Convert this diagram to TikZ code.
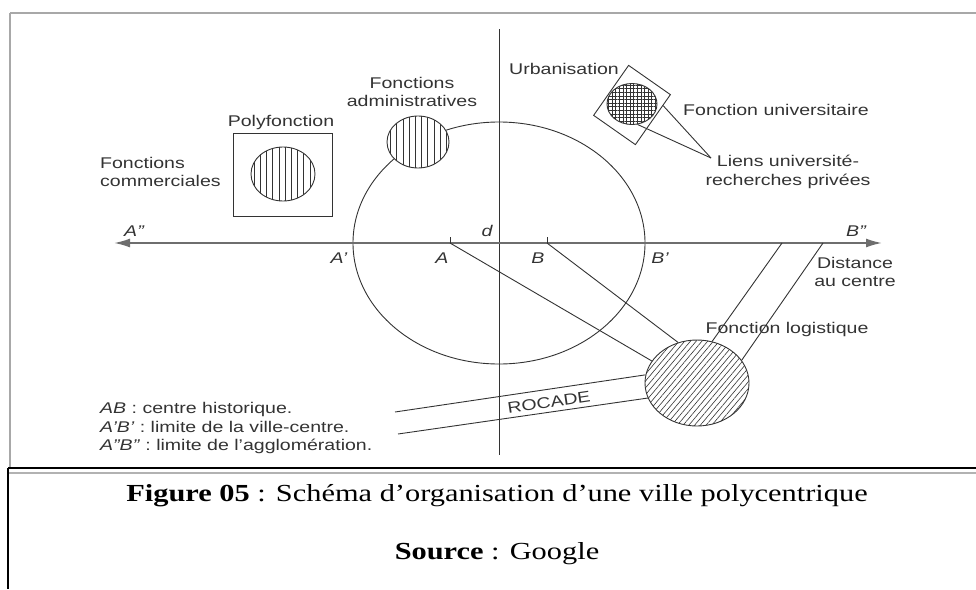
\documentclass[tikz,border=0pt]{standalone}
\usepackage{fontspec}
\setmainfont{Liberation Sans}[FakeStretch=1.26]
\newfontfamily\capfont{Liberation Serif}[FakeStretch=1.24]
\usetikzlibrary{shapes.geometric, patterns.meta, arrows.meta, calc}
\definecolor{ink}{HTML}{333333}
\definecolor{axisgray}{HTML}{6E6E6E}
\definecolor{framegray}{HTML}{A8A8A8}
\tikzset{
  lbl/.style={text=ink, font=\fontsize{15.5}{18.5}\selectfont, inner sep=0pt, align=center},
  ptlbl/.style={lbl, font=\fontsize{15.5}{18.5}\selectfont\itshape},
  zone/.style={ellipse, draw=ink, line width=0.9pt, fill=white, inner sep=0pt},
  vhatch/.style={postaction={pattern={Lines[angle=90, distance=6.2pt, line width=0.7pt]}, pattern color=ink}},
  gridhatch/.style={postaction={pattern={Hatch[distance=3.6pt, line width=0.5pt]}, pattern color=ink}},
  diaghatch/.style={postaction={pattern={Lines[angle=50, distance=4.4pt, line width=0.6pt]}, pattern color=ink}},
  link/.style={draw=ink, line width=0.9pt},
  caption/.style={inner sep=0pt, font=\capfont\fontsize{24.5}{28}\selectfont},
}
\begin{document}
\begin{tikzpicture}[x=1pt, y=-1pt]
\useasboundingbox (0,0) rectangle (976,589);
% frame
\draw[framegray, line width=2.5pt] (10,13) -- (976,13);
\draw[framegray, line width=2pt] (10,13) -- (10,468);
\draw[black, line width=2pt] (8,468) -- (976,468);
\draw[gray!60, line width=2pt] (8,473) -- (976,473);
\draw[black, line width=1.6pt] (8,468) -- (8,589);

% axes
\coordinate (Aend) at (114,243);
\coordinate (Bend) at (882,243);
\coordinate (top) at (499,29);
\coordinate (bottom) at (499,455);
\node[ellipse, draw=ink, line width=0.9pt, minimum width=292pt, minimum height=242pt] (ville) at (499,243) {};
\draw[link] (top) -- (bottom);
\draw[axisgray, line width=1.8pt, {Latex[length=16pt,width=9pt]}-{Latex[length=16pt,width=9pt]}] (Aend) -- (Bend);
\coordinate (A) at (450,243);
\coordinate (B) at (547,243);
\draw[link] (A) -- ++(0,-6);
\draw[link] (B) -- ++(0,-6);

\node[ptlbl] (lApp) at (134,231) {A''};
\node[ptlbl] (lBpp) at (856,231) {B''};
\node[ptlbl] (ld) at (487,231) {d};
\node[ptlbl] (lAp) at (339,258) {A'};
\node[ptlbl] (lA) at (442,258) {A};
\node[ptlbl] (lB) at (538,258) {B};
\node[ptlbl] (lBp) at (660,258) {B'};

% poles
\node[zone, vhatch, minimum width=62pt, minimum height=52pt] (admin) at (418,142) {};
\node[lbl] (ladmin) at (412,92) {Fonctions\\administratives};

\node[draw=ink, line width=0.9pt, minimum width=99pt, minimum height=83pt] (poly) at (282.5,174.5) {};
\node[zone, vhatch, minimum width=64pt, minimum height=54pt] (polyc) at (283,174) {};
\node[lbl] (lpoly) at (281,122) {Polyfonction};
\node[lbl, align=left, anchor=west] (lcomm) at (100,172) {Fonctions\\commerciales};

\node[draw=ink, line width=0.9pt, rotate=-35, minimum width=51pt, minimum height=61pt] (campus) at (632,105) {};
\node[zone, gridhatch, minimum width=50pt, minimum height=41pt] (univ) at (632,104) {};
\node[lbl] (lurb) at (564,69) {Urbanisation};
\node[lbl, anchor=west] (luniv) at (683,110) {Fonction universitaire};
\node[lbl] (lliens) at (788,172) {Liens université-\\recherches privées};
\coordinate (liens) at (711,158);
\draw[link] (liens) -- ($(campus.north east)!0.22!(campus.south east)$);
\draw[link] (liens) -- (univ.-75);

\node[zone, diaghatch, minimum width=104pt, minimum height=86pt] (logi) at (697,383) {};
\node[lbl] (llogi) at (787,329) {Fonction logistique};
\node[lbl] (ldist) at (855,272) {Distance\\au centre};
\draw[link] (782,243) -- (logi.70);
\draw[link] (823,243) -- (logi.27);
\draw[link] (A) -- (logi.154);
\draw[link] (B) -- (logi.115);

% rocade
\coordinate (r1) at (395,412);
\coordinate (r2) at (398,434);
\draw[link] (r1) -- (logi.171);
\draw[link] (r2) -- (logi.197);
\node[lbl, rotate=8.4] (lrocade) at (549,402) {ROCADE};

\node[lbl, align=left, anchor=west] (legend) at (100,428) {\textit{AB} : centre historique.\\\textit{A'B'} : limite de la ville-centre.\\\textit{A''B''} : limite de l'agglomération.};

% caption
\node[caption] (figcap) at (497,496) {\textbf{Figure 05} : Schéma d’organisation d’une ville polycentrique};
\node[caption] (source) at (497,554) {\textbf{Source} : Google};
\end{tikzpicture}
\end{document}
